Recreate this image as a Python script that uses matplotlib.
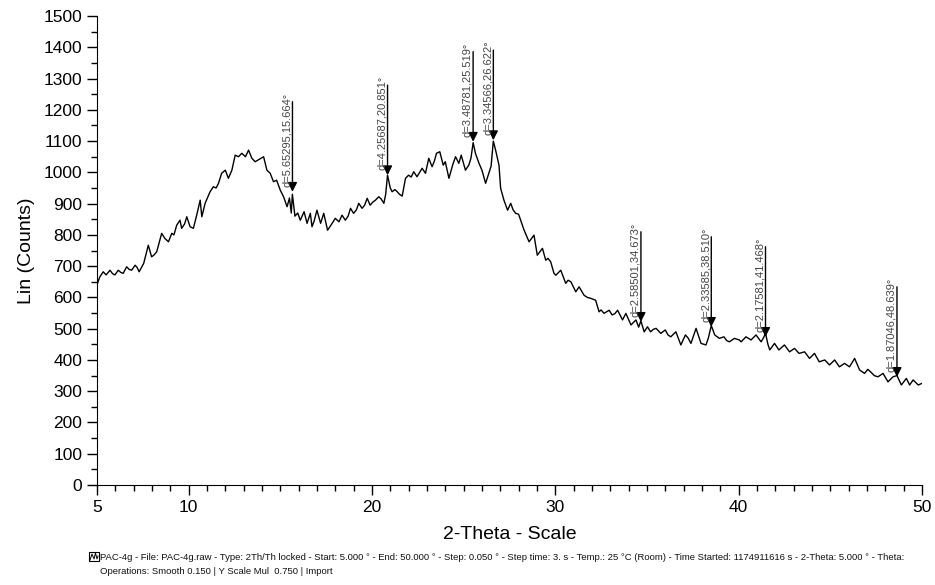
import matplotlib
matplotlib.use("Agg")
import matplotlib.pyplot as plt
from matplotlib.patches import Rectangle
from matplotlib.ticker import MultipleLocator

plt.rcParams["font.family"] = ["Liberation Sans", "DejaVu Sans"]

two_theta = [
    5.0, 5.15, 5.34, 5.5, 5.71, 5.85, 5.98, 6.16, 6.3, 6.43, 6.62, 6.75, 6.89, 7.08, 7.2,
    7.3, 7.55, 7.8, 7.98, 8.1, 8.26, 8.53, 8.7, 8.9, 9.08, 9.2, 9.35, 9.53, 9.62, 9.78,
    9.9, 10.08, 10.26, 10.44, 10.63, 10.72, 10.9, 11.17, 11.35, 11.5, 11.63, 11.8, 12.0,
    12.17, 12.36, 12.54, 12.72, 12.9, 13.1, 13.27, 13.45, 13.63, 13.8, 14.09, 14.27, 14.45,
    14.63, 14.8, 15.0, 15.18, 15.37, 15.5, 15.6, 15.66, 15.8, 15.95, 16.09, 16.3, 16.46,
    16.64, 16.73, 16.85, 17.0, 17.2, 17.37, 17.58, 17.83, 18.0, 18.2, 18.37, 18.55, 18.7,
    18.83, 19.0, 19.15, 19.28, 19.46, 19.6, 19.74, 19.9, 20.05, 20.19, 20.37, 20.5, 20.65,
    20.75, 20.85, 21.0, 21.1, 21.25, 21.38, 21.5, 21.65, 21.83, 22.0, 22.14, 22.28, 22.46,
    22.6, 22.74, 22.92, 23.1, 23.28, 23.4, 23.52, 23.7, 23.89, 24.0, 24.2, 24.4, 24.56,
    24.74, 24.87, 25.1, 25.28, 25.4, 25.52, 25.65, 25.84, 26.0, 26.2, 26.4, 26.5, 26.62,
    26.75, 26.93, 27.02, 27.2, 27.4, 27.57, 27.7, 27.84, 28.0, 28.15, 28.3, 28.57, 28.84,
    29.02, 29.3, 29.48, 29.6, 29.75, 29.93, 30.03, 30.3, 30.57, 30.7, 30.85, 31.12, 31.3,
    31.57, 31.75, 31.94, 32.2, 32.39, 32.5, 32.66, 32.94, 33.1, 33.25, 33.4, 33.67, 33.85,
    34.13, 34.4, 34.55, 34.67, 34.85, 35.03, 35.2, 35.35, 35.5, 35.76, 36.0, 36.15, 36.3,
    36.58, 36.85, 37.1, 37.25, 37.4, 37.68, 37.95, 38.22, 38.35, 38.51, 38.7, 38.95, 39.2,
    39.35, 39.5, 39.77, 40.04, 40.14, 40.4, 40.68, 40.95, 41.23, 41.35, 41.47, 41.6, 41.7,
    41.96, 42.2, 42.5, 42.78, 43.05, 43.3, 43.6, 43.87, 44.14, 44.4, 44.7, 44.96, 45.24,
    45.5, 45.78, 46.05, 46.33, 46.6, 46.87, 47.05, 47.2, 47.4, 47.6, 47.88, 48.15, 48.42,
    48.64, 48.88, 49.15, 49.33, 49.52, 49.8, 50.0,
]
counts = [
    640, 665, 682, 672, 687, 676, 672, 687, 680, 677, 698, 690, 687, 703, 695,
    682, 709, 767, 730, 735, 746, 805, 789, 778, 805, 800, 831, 847, 821, 835,
    858, 826, 821, 863, 911, 858, 901, 938, 954, 950, 965, 997, 1007,
    981, 1007, 1055, 1050, 1061, 1050, 1071, 1045, 1034, 1040, 1050, 1007, 997,
    970, 975, 943, 922, 890, 918, 870, 930, 860, 870, 847, 874, 837,
    869, 826, 845, 879, 837, 869, 815, 837, 853, 842, 863, 847, 860,
    885, 869, 880, 901, 885, 895, 917, 895, 905, 911, 922, 915, 901,
    930, 991, 950, 938, 945, 938, 930, 924, 981, 991, 985, 1002, 986,
    1000, 1013, 997, 1045, 1018, 1035, 1061, 1066, 1023, 1034, 981, 1023, 1050,
    1029, 1055, 1007, 1023, 1045, 1095, 1060, 1029, 1007, 965, 1002, 1020, 1100,
    1070, 1023, 949, 911, 879, 901, 880, 869, 866, 840, 815, 778, 799,
    735, 757, 719, 725, 714, 677, 671, 687, 645, 655, 650, 618, 634,
    607, 600, 597, 591, 554, 560, 549, 559, 544, 548, 559, 528, 549,
    512, 528, 505, 525, 490, 506, 490, 498, 501, 485, 496, 480, 474,
    490, 448, 480, 470, 453, 501, 453, 448, 470, 510, 480, 469, 474,
    462, 458, 469, 464, 458, 474, 464, 480, 458, 470, 485, 450, 432,
    453, 432, 448, 426, 437, 421, 426, 405, 421, 394, 400, 384, 400,
    378, 389, 378, 405, 368, 357, 370, 362, 350, 346, 357, 330, 346,
    350, 320, 341, 320, 336, 320, 325,
]

# identified reflections: position, d-spacing, counts at arrow tip
peak_2theta = [15.664, 20.851, 25.519, 26.622, 34.673, 38.510, 41.468, 48.639]
peak_d = [5.65295, 4.25687, 3.48781, 3.34566, 2.58501, 2.33585, 2.17581, 1.87046]
peak_tip = [938, 991, 1098, 1103, 522, 506, 474, 346]

footer_1 = ("PAC-4g - File: PAC-4g.raw - Type: 2Th/Th locked - Start: 5.000 \u00b0 - "
            "End: 50.000 \u00b0 - Step: 0.050 \u00b0 - Step time: 3. s - Temp.: 25 \u00b0C (Room) - "
            "Time Started: 1174911616 s - 2-Theta: 5.000 \u00b0 - Theta:")
footer_2 = "Operations: Smooth 0.150 | Y Scale Mul  0.750 | Import"

fig = plt.figure(figsize=(9.35, 5.85), dpi=100)
ax = fig.add_axes([0.1037, 0.1709, 0.8823, 0.8017])

ax.plot(two_theta, counts, color="black", lw=1.0)

for x, d, tip in zip(peak_2theta, peak_d, peak_tip):
    ax.annotate("", xy=(x, tip), xytext=(x, tip + 288),
                arrowprops=dict(arrowstyle="-|>,head_length=0.55,head_width=0.28",
                                color="black", lw=1.0, shrinkA=0, shrinkB=0,
                                mutation_scale=10))
    ax.annotate(f"d={d:.5f},{x:.3f}\u00b0", xy=(x, tip), xytext=(-0.5, 3.5),
                textcoords="offset points", rotation=90, ha="right", va="bottom",
                fontsize=8.0, color="#444444")

ax.set_xlim(5, 50)
ax.set_ylim(0, 1500)
ax.set_xticks([5, 10, 20, 30, 40, 50])
ax.xaxis.set_minor_locator(MultipleLocator(1))
ax.yaxis.set_major_locator(MultipleLocator(100))
ax.yaxis.set_minor_locator(MultipleLocator(50))
ax.tick_params(which="major", direction="out", length=7, width=1, labelsize=12.5)
ax.tick_params(which="minor", direction="out", length=4, width=1)
ax.spines["top"].set_visible(False)
ax.spines["right"].set_visible(False)
ax.set_xlabel("2-Theta - Scale", fontsize=14, labelpad=8)
ax.set_ylabel("Lin (Counts)", fontsize=14, labelpad=6)

# scan info footer with a small pattern icon
fig.patches.append(Rectangle((89 / 935, 1 - 561 / 585), 10 / 935, 9 / 585,
                             transform=fig.transFigure, fill=False, lw=0.8,
                             edgecolor="black"))
fig.add_artist(plt.Line2D([90 / 935, 92 / 935, 94 / 935, 95.5 / 935, 97 / 935, 98 / 935],
                          [1 - 560 / 585, 1 - 554 / 585, 1 - 559 / 585, 1 - 553 / 585,
                           1 - 559 / 585, 1 - 556 / 585],
                          transform=fig.transFigure, color="black", lw=0.7))
fig.text(100 / 935, 1 - 557 / 585, footer_1, fontsize=6.8, va="center", ha="left",
         color="#111111")
fig.text(100 / 935, 1 - 571 / 585, footer_2, fontsize=6.8, va="center", ha="left",
         color="#111111")

fig.savefig("out.png", dpi=100)
